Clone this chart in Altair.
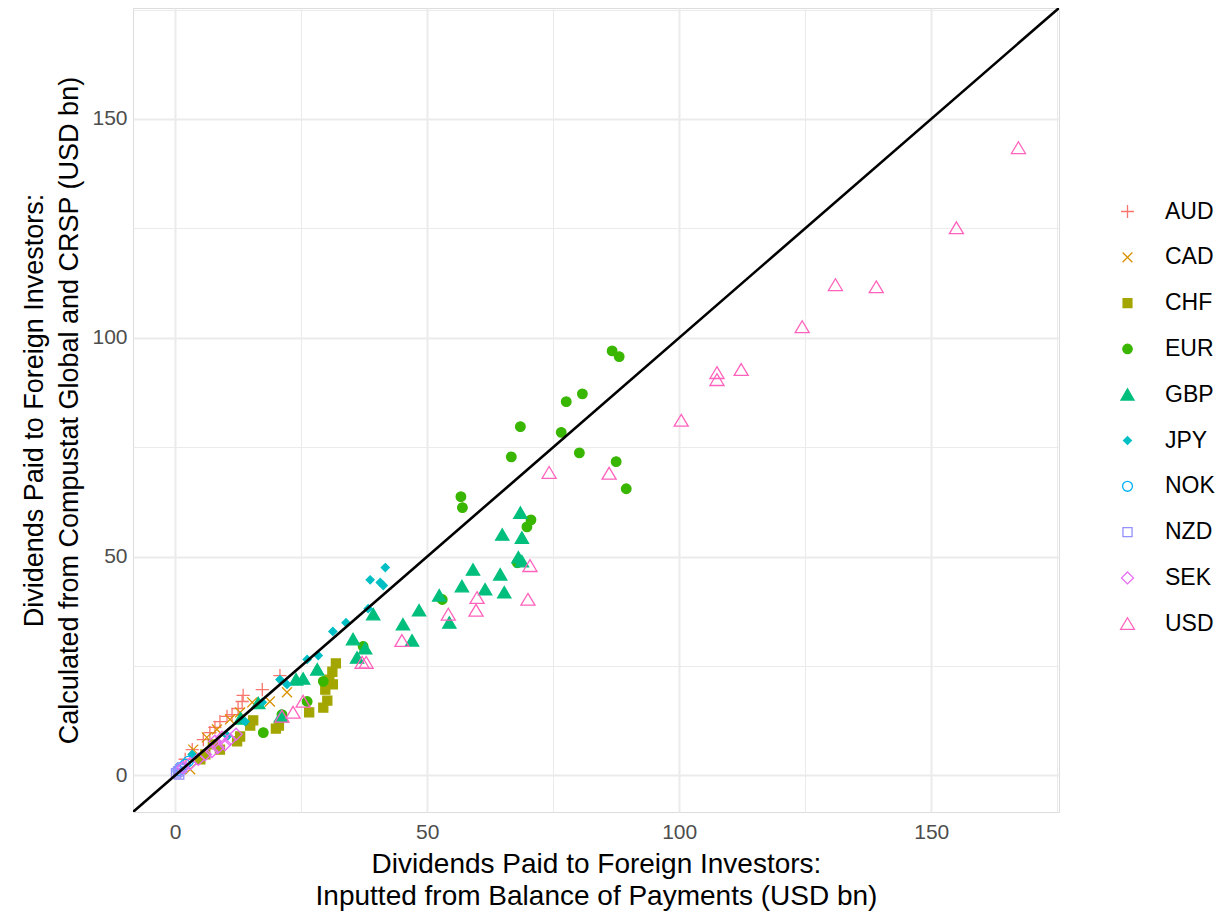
import altair as alt
import pandas as pd

# ---- data ----
currencies = ["AUD", "CAD", "CHF", "EUR", "GBP", "JPY", "NOK", "NZD", "SEK", "USD"]

AUD_x = [20.8, 17.3, 13.5, 13.3, 12.5, 11.3, 10.3, 8.9, 7.9, 6.9, 5.6, 3.4, 2.0]
AUD_y = [22.8, 19.6, 18.3, 16.9, 15.3, 13.9, 13.5, 12.3, 11.0, 9.8, 8.2, 5.9, 3.7]

CAD_x = [22.2, 18.8, 15.3, 12.9, 10.9, 8.3, 6.3, 3.6, 3.0]
CAD_y = [19.0, 16.9, 16.7, 14.4, 12.8, 10.5, 8.7, 5.9, 1.4]

CHF_x = [31.9, 31.2, 30.6, 31.3, 29.8, 30.2, 29.4, 26.6, 20.6, 20.0, 15.5, 14.9, 12.9, 12.3, 7.5, 5.0, 8.9, 6.0]
CHF_y = [25.6, 23.7, 21.9, 20.8, 19.6, 17.1, 15.5, 14.4, 11.4, 10.7, 12.6, 11.4, 8.9, 7.8, 7.1, 3.7, 5.9, 4.8]

EUR_x = [86.7, 88.1, 80.8, 77.6, 68.5, 66.7, 76.6, 80.2, 87.5, 89.5, 56.7, 57.0, 70.6, 69.8, 67.9, 53.0, 37.3, 29.4, 26.2, 21.2, 17.5]
EUR_y = [97.0, 95.7, 87.2, 85.4, 79.7, 72.8, 78.4, 73.7, 71.7, 65.5, 63.7, 61.2, 58.4, 56.8, 48.6, 40.2, 29.5, 21.5, 16.9, 13.9, 9.8]

GBP_x = [68.5, 64.9, 68.8, 68.1, 68.8, 59.1, 64.5, 56.9, 61.5, 65.3, 52.4, 48.4, 54.4, 45.2, 47.0, 35.3, 37.7, 39.3, 36.1, 28.2, 25.4, 24.0, 21.0, 16.5, 13.0]
GBP_y = [60.0, 55.0, 54.3, 49.8, 48.9, 47.0, 45.9, 43.2, 42.5, 41.8, 41.1, 37.7, 34.9, 34.5, 30.8, 31.1, 29.0, 36.8, 26.9, 24.2, 22.1, 21.9, 13.5, 16.5, 13.0]

JPY_x = [41.7, 38.7, 40.7, 41.3, 38.3, 33.9, 31.3, 28.4, 26.2, 22.2, 20.8, 17.3, 13.9, 10.4, 3.4]
JPY_y = [47.5, 44.7, 44.1, 43.4, 38.1, 34.9, 32.9, 27.4, 26.5, 20.8, 21.9, 16.7, 12.3, 9.0, 4.8]

NOK_x = [1.0, 2.0, 2.6, 0.6]
NOK_y = [1.8, 2.5, 3.2, 1.1]

NZD_x = [0.2, 0.6, 1.0, 1.4, 0.8]
NZD_y = [0.5, 0.9, 1.4, 1.8, 0.2]

SEK_x = [10.9, 9.9, 8.5, 7.3, 6.0, 4.6, 3.0, 1.6, 12.1, 9.3, 7.9]
SEK_y = [8.2, 7.1, 6.4, 5.5, 4.8, 3.7, 2.7, 1.8, 9.4, 8.7, 7.8]

USD_x = [167.3, 155.0, 131.0, 139.1, 124.4, 107.5, 107.5, 112.3, 100.4, 74.2, 86.1, 70.4, 70.0, 59.9, 59.7, 54.2, 45.0, 37.1, 37.9, 25.4, 23.4, 21.2]
USD_y = [143.4, 125.1, 112.1, 111.6, 102.5, 92.0, 90.4, 92.7, 81.1, 69.2, 69.0, 47.9, 40.2, 40.6, 37.7, 36.8, 30.8, 25.8, 25.8, 16.9, 14.4, 13.5]

series = {
    "AUD": (AUD_x, AUD_y), "CAD": (CAD_x, CAD_y), "CHF": (CHF_x, CHF_y),
    "EUR": (EUR_x, EUR_y), "GBP": (GBP_x, GBP_y), "JPY": (JPY_x, JPY_y),
    "NOK": (NOK_x, NOK_y), "NZD": (NZD_x, NZD_y), "SEK": (SEK_x, SEK_y),
    "USD": (USD_x, USD_y),
}

rows = []
for cur in currencies:
    xs, ys = series[cur]
    for a, b in zip(xs, ys):
        rows.append({"cur": cur, "bop": a, "calc": b})
df = pd.DataFrame(rows)

# ---- styling ----
colors = ["#F8766D", "#D89000", "#A3A500", "#39B600", "#00BF7D",
          "#00BFC4", "#00B0F6", "#9590FF", "#E76BF3", "#FF62BC"]
fills = ["transparent", "transparent", "#A3A500", "#39B600", "#00BF7D",
         "#00BFC4", "transparent", "transparent", "transparent", "transparent"]
shapes = [
    "M-1,0L1,0M0,-1L0,1",                                   # plus
    "M-0.75,-0.75L0.75,0.75M-0.75,0.75L0.75,-0.75",          # x
    "M-0.68,-0.68L0.68,-0.68L0.68,0.68L-0.68,0.68Z",         # filled square
    "M0.72,0A0.72,0.72 0 1,1 -0.72,0A0.72,0.72 0 1,1 0.72,0Z",  # filled circle
    "M0,-0.9L1.0,0.82L-1.0,0.82Z",                           # filled triangle
    "M0,-0.6L0.6,0L0,0.6L-0.6,0Z",                           # filled diamond
    "M0.76,0A0.76,0.76 0 1,1 -0.76,0A0.76,0.76 0 1,1 0.76,0Z",  # open circle
    "M-0.7,-0.7L0.7,-0.7L0.7,0.7L-0.7,0.7Z",                 # open square
    "M0,-0.92L0.92,0L0,0.92L-0.92,0Z",                       # open diamond
    "M0,-0.92L1.06,0.86L-1.06,0.86Z",                        # open triangle
]

lo, hi = -8.35, 175.35
FONT = "Liberation Sans"

grid_w = {"condition": {"test": "datum.value % 50 === 0", "value": 2}, "value": 1}
label_expr = "datum.value % 50 === 0 ? datum.label : ''"
vals = [0, 25, 50, 75, 100, 125, 150, 175]

x_axis = alt.Axis(values=vals, labelExpr=label_expr, gridWidth=grid_w, gridColor="#EBEBEB",
                  domain=False, ticks=False, labelFontSize=21, labelColor="#4D4D4D",
                  labelPadding=9, labelFont=FONT, titleFont=FONT, titleFontSize=28,
                  titleFontWeight="normal", titleColor="black", titlePadding=8,
                  titleLineHeight=32,
                  title=["Dividends Paid to Foreign Investors:",
                         "Inputted from Balance of Payments (USD bn)"])
y_axis = alt.Axis(values=vals, labelExpr=label_expr, gridWidth=grid_w, gridColor="#EBEBEB",
                  domain=False, ticks=False, labelFontSize=21, labelColor="#4D4D4D",
                  labelPadding=6, labelFont=FONT, titleFont=FONT, titleFontSize=27,
                  titleFontWeight="normal", titleColor="black", titlePadding=8,
                  titleLineHeight=35,
                  title=["Dividends Paid to Foreign Investors:",
                         "Calculated from Compustat Global and CRSP (USD bn)"])

xs = alt.Scale(domain=[lo, hi], nice=False, zero=False)
ys = alt.Scale(domain=[lo, hi], nice=False, zero=False)

leg = alt.Legend(orient="none", legendX=983, legendY=192, labelFontSize=23, labelFont=FONT,
                 labelColor="black", symbolSize=169, symbolStrokeWidth=1.3,
                 rowPadding=21.8, labelOffset=26, padding=0)

points = alt.Chart(df).mark_point(filled=True, opacity=1, size=176, strokeWidth=1.3).encode(
    x=alt.X("bop:Q", scale=xs, axis=x_axis),
    y=alt.Y("calc:Q", scale=ys, axis=y_axis),
    stroke=alt.Stroke("cur:N", scale=alt.Scale(domain=currencies, range=colors), legend=leg, title=None),
    fill=alt.Fill("cur:N", scale=alt.Scale(domain=currencies, range=fills), legend=leg, title=None),
    shape=alt.Shape("cur:N", scale=alt.Scale(domain=currencies, range=shapes), legend=leg, title=None),
)

diag = alt.Chart(pd.DataFrame({"v": [lo, hi]})).mark_line(color="black", strokeWidth=2.6, clip=True).encode(
    x=alt.X("v:Q", scale=xs),
    y=alt.Y("v:Q", scale=ys),
)

chart = alt.layer(points, diag).properties(
    width=926, height=804,
    padding={"left": 133, "top": 8, "right": 166, "bottom": 103},
    autosize=alt.AutoSizeParams(type="none"),
).configure_view(stroke=None).configure(background="white")

chart.save("out.html", embed_options={"renderer": "svg", "actions": False})
